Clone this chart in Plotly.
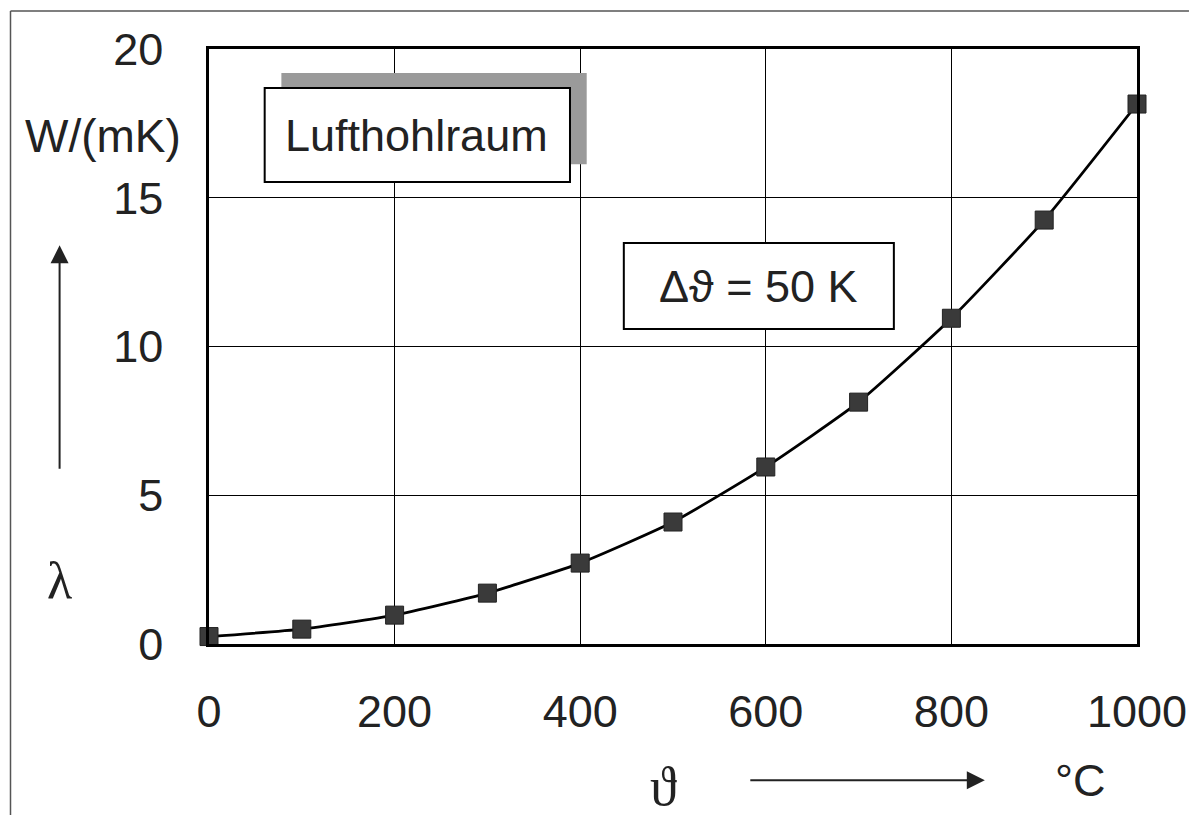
import plotly.graph_objects as go

# Temperatur in °C und Wärmeleitfähigkeit in W/(mK)
temp = [0, 100, 200, 300, 400, 500, 600, 700, 800, 900, 1000]
lam = [0.25, 0.50, 0.97, 1.71, 2.72, 4.10, 5.95, 8.13, 10.95, 14.25, 18.15]

x_ticks = [0, 200, 400, 600, 800, 1000]
y_ticks = [0, 5, 10, 15, 20]

font = "Liberation Sans, Arial, sans-serif"
serif = "Liberation Serif, Times New Roman, serif"

fig = go.Figure()
fig.add_trace(go.Scatter(
    x=temp, y=lam, mode="lines+markers",
    line=dict(color="black", width=2.8, shape="spline", smoothing=0.5),
    marker=dict(symbol="square", size=18, color="#3a3a3a", line=dict(color="#222", width=1)),
    showlegend=False, cliponaxis=False,
))

fig.update_xaxes(range=[0, 1000], tickvals=x_ticks, showgrid=True, gridcolor="black", gridwidth=1.4,
                 showline=True, linecolor="black", linewidth=2.5, mirror=True, zeroline=False,
                 tickfont=dict(size=45, color="#222", family=font), ticks="", ticklabelstandoff=26)
fig.update_yaxes(range=[0, 20], tickvals=y_ticks, showgrid=True, gridcolor="black", gridwidth=1.4,
                 showline=True, linecolor="black", linewidth=2.5, mirror=True, zeroline=False,
                 tickfont=dict(size=45, color="#222", family=font), ticks="", ticklabelstandoff=34)

shapes = [
    # Schatten + Kasten "Lufthohlraum"
    dict(type="rect", xref="x", yref="y", x0=78, x1=407, y0=16.13, y1=19.19,
         fillcolor="#9a9a9a", line=dict(width=0), layer="above"),
    dict(type="rect", xref="x", yref="y", x0=60, x1=389, y0=15.53, y1=18.69,
         fillcolor="white", line=dict(color="black", width=2), layer="above"),
    # Kasten Δϑ
    dict(type="rect", xref="x", yref="y", x0=447, x1=738, y0=10.59, y1=13.48,
         fillcolor="white", line=dict(color="black", width=2), layer="above"),
    # äußerer Rahmen
    dict(type="line", xref="paper", yref="paper", x0=-0.2139, x1=-0.2139, y0=-0.29, y1=1.0639,
         line=dict(color="#555", width=1.5)),
    dict(type="line", xref="paper", yref="paper", x0=-0.2139, x1=1.056, y0=1.0639, y1=1.0639,
         line=dict(color="#555", width=1.5)),
]

c = dict(xanchor="center", yanchor="middle", showarrow=False)
annotations = [
    dict(x=224, y=17.1, xref="x", yref="y", text="Lufthohlraum",
         font=dict(size=45, color="#222", family=font), **c),
    dict(x=592, y=12.03, xref="x", yref="y", text="Δϑ = 50 K",
         font=dict(size=45, color="#222", family=font), **c),
    dict(x=-0.114, y=0.854, xref="paper", yref="paper", text="W/(mK)",
         font=dict(size=46, color="#222", family=font), **c),
    dict(x=-0.161, y=0.106, xref="paper", yref="paper", text="λ",
         font=dict(size=52, color="#222", family=serif), **c),
    dict(x=-0.161, y=0.67, xref="paper", yref="paper", ax=0, ay=225, text="", showarrow=True,
         arrowhead=2, arrowsize=1.8, arrowwidth=2, arrowcolor="#222"),
    dict(x=0.49, y=-0.24, xref="paper", yref="paper", text="ϑ",
         font=dict(size=54, color="#222", family=serif), **c),
    dict(x=0.836, y=-0.229, xref="paper", yref="paper", ax=-236, ay=0, text="", showarrow=True,
         arrowhead=2, arrowsize=1.8, arrowwidth=2, arrowcolor="#222"),
    dict(x=0.939, y=-0.23, xref="paper", yref="paper", text="°C",
         font=dict(size=45, color="#222", family=font), **c),
]

# die Seite hat einen kleinen Rand, daher etwas kleiner und Ränder angepasst
fig.update_layout(
    width=1191, height=808,
    margin=dict(l=201, r=55, t=41, b=172),
    plot_bgcolor="white", paper_bgcolor="white",
    shapes=shapes, annotations=annotations,
)

fig.write_html("out.html")
